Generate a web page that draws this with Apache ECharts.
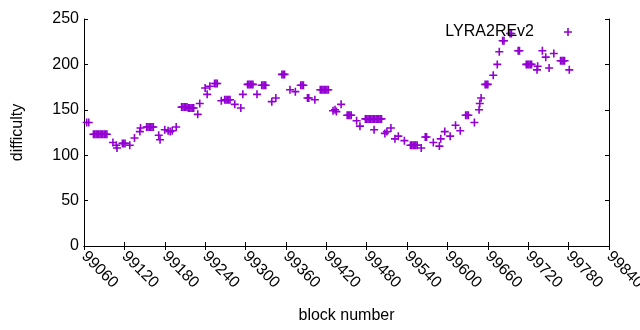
<!DOCTYPE html>
<html>
<head>
<meta charset="utf-8">
<script src="https://cdn.jsdelivr.net/npm/echarts@6/dist/echarts.min.js"></script>
<style>
  html, body { margin: 0; padding: 0; background: #fff; }
  #chart { width: 640px; height: 330px; }
</style>
</head>
<body>
<div id="chart"></div>
<script>
// block numbers and difficulty
var blocks = [
  99064, 99067,
  99074, 99076, 99078, 99080, 99082, 99084, 99086, 99088, 99090, 99092, 99094,
  99103, 99108, 99109, 99117, 99119, 99121, 99128, 99135, 99143, 99144,
  99153, 99155, 99157, 99159, 99161, 99163,
  99171, 99173, 99180, 99185, 99188, 99191, 99197,
  99205, 99207, 99209, 99211, 99213, 99215, 99217, 99219, 99221, 99223,
  99229, 99232, 99240, 99243, 99247, 99254, 99256, 99258,
  99264, 99269, 99271, 99273, 99275, 99277,
  99284, 99293, 99296, 99303, 99305, 99307, 99309, 99311,
  99317, 99324, 99326, 99328, 99330, 99339, 99345,
  99354, 99356, 99358, 99366, 99374, 99382, 99384, 99386,
  99392, 99394, 99403, 99411, 99413, 99415, 99417, 99419, 99421, 99423,
  99430, 99433, 99435, 99442, 99451, 99453, 99455, 99457, 99465, 99470,
  99478, 99480, 99482, 99484, 99486, 99488, 99490, 99492, 99494, 99496, 99498, 99500, 99502,
  99491, 99507, 99510, 99516, 99522, 99527, 99536,
  99545, 99547, 99549, 99551, 99553, 99555,
  99561, 99567, 99569, 99579, 99588, 99590, 99596, 99604, 99612, 99619,
  99627, 99629, 99631, 99640, 99647, 99648, 99650, 99656, 99658, 99660,
  99668, 99674, 99677, 99682, 99684, 99693, 99695, 99705, 99707,
  99717, 99719, 99721, 99723, 99725, 99733, 99734, 99741, 99746, 99751, 99758,
  99768, 99770, 99772, 99774, 99781
]
var difficulty = [
  136, 136,
  123, 123, 123, 123, 123, 123, 123, 123, 123, 123, 123,
  114, 111, 108, 113, 113, 113, 111, 119, 126, 130,
  131, 131, 131, 131, 131, 131,
  122, 117, 128, 127, 126, 127, 131,
  153, 153, 153, 153, 153, 152, 152, 152, 152, 152,
  145, 157, 174, 167, 176, 179, 179, 179,
  160, 161, 161, 161, 161, 161,
  156, 152, 167, 178, 178, 178, 178, 178,
  167, 177, 177, 177, 177, 159, 163,
  189, 189, 189, 172, 170, 177, 177, 177,
  163, 163, 161, 172, 172, 172, 172, 172, 172, 172,
  149, 150, 148, 156, 144, 144, 144, 144, 138, 132,
  140, 140, 140, 140, 140, 140, 140, 140, 140, 140, 140, 140, 140,
  128, 124, 126, 130, 118, 121, 116,
  111, 111, 111, 111, 111, 111,
  108, 120, 120, 114, 110, 118, 126, 121, 133, 127,
  144, 144, 144, 136, 150, 157, 163, 178, 178, 178,
  188, 200, 214, 226, 226, 234, 234, 215, 215,
  200, 200, 200, 200, 200, 194, 198, 215, 208, 196, 212,
  204, 204, 204, 204, 194
]
var yTicks = [0, 50, 100, 150, 200, 250]

var purple = '#9400d3'
var font = 'Liberation Sans'
// gnuplot style "+" point
var plus = 'path://M3.2,0H4.8V3.2H8V4.8H4.8V8H3.2V4.8H0V3.2H3.2Z'

var points = blocks.map(function (b, i) { return [b, difficulty[i]] })

var chart = echarts.init(document.getElementById('chart'))

var xBase = {
  type: 'value',
  min: 99060,
  max: 99840,
  interval: 60,
  splitLine: { show: false },
  axisLine: { lineStyle: { color: '#000', width: 1 } },
  axisTick: { inside: true, length: 4, lineStyle: { color: '#000' } }
}
var yBase = {
  type: 'value',
  min: yTicks[0],
  max: yTicks[yTicks.length - 1],
  interval: 50,
  splitLine: { show: false },
  axisLine: { show: true, lineStyle: { color: '#000', width: 1 } },
  axisTick: { show: true, inside: true, length: 4, lineStyle: { color: '#000' } }
}

chart.setOption({
  animation: false,
  textStyle: { fontFamily: font },
  grid: { left: 84, right: 31, top: 19, bottom: 84, outerBoundsMode: 'none' },
  legend: {
    right: 68,
    top: 24,
    padding: 0,
    itemWidth: 8,
    itemHeight: 8,
    textStyle: { fontFamily: font, fontSize: 16, color: '#000', padding: [0, 25, 0, 0] },
    align: 'right',
    data: [{ name: 'LYRA2REv2', icon: plus }]
  },
  xAxis: [
    Object.assign({}, xBase, {
      position: 'bottom',
      name: 'block number',
      nameLocation: 'middle',
      nameGap: 62,
      nameTextStyle: { fontFamily: font, fontSize: 16, color: '#000' },
      axisLabel: {
        rotate: -45, margin: 8, color: '#000',
        fontFamily: font, fontSize: 16, showMaxLabel: true, showMinLabel: true,
        formatter: function (v) { return String(v) }
      }
    }),
    Object.assign({}, xBase, { position: 'top', axisLabel: { show: false } })
  ],
  yAxis: [
    Object.assign({}, yBase, {
      position: 'left',
      name: 'difficulty',
      nameLocation: 'middle',
      nameRotate: 90,
      nameGap: 58,
      nameTextStyle: { fontFamily: font, fontSize: 16, color: '#000' },
      axisLabel: { margin: 5, color: '#000', fontFamily: font, fontSize: 16 }
    }),
    Object.assign({}, yBase, { position: 'right', axisLabel: { show: false } })
  ],
  series: [{
    name: 'LYRA2REv2',
    type: 'scatter',
    xAxisIndex: 0,
    yAxisIndex: 0,
    symbol: plus,
    symbolSize: 8,
    itemStyle: { color: purple, opacity: 1 },
    data: points
  }]
})
</script>
</body>
</html>
